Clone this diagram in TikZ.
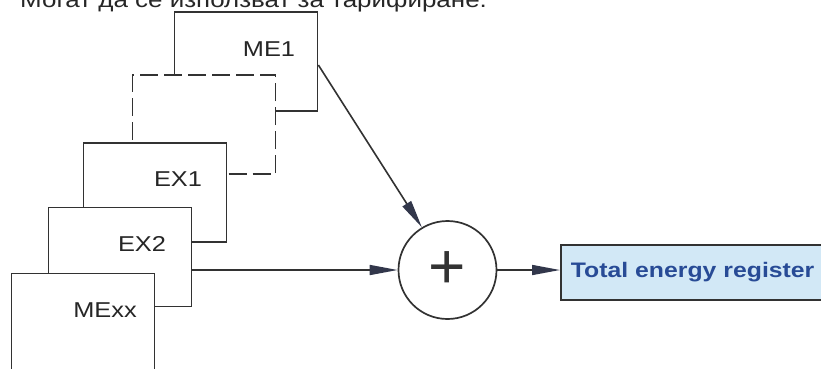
\documentclass[tikz,border=0pt]{standalone}
\usepackage{fontspec}
\setmainfont{Liberation Sans}
\newfontfamily\lblfont[FakeStretch=1.18]{Liberation Sans}
\usetikzlibrary{arrows.meta}
\definecolor{linegray}{RGB}{50,50,50}
\definecolor{headgray}{RGB}{50,55,75}
\definecolor{regfill}{RGB}{210,232,246}
\definecolor{regtext}{RGB}{40,75,150}
\begin{document}
\begin{tikzpicture}[x=1pt,y=-1pt,
  card/.style={draw=linegray, line width=1.7pt, fill=white, minimum width=143pt, minimum height=99pt, inner sep=0pt},
  hidcard/.style={card, dash pattern=on 18pt off 6pt},
  lbl/.style={font=\lblfont\fontsize{21.5}{25}\selectfont, text=black!85, inner sep=0pt},
  arr/.style={draw=linegray, line width=1.6pt, -{Triangle[length=28pt,width=10pt,color=headgray]}},
]
\useasboundingbox (0,0) rectangle (821,368);
\clip (0,0) rectangle (821,368);
\fill[white] (0,0) rectangle (821,368);
\node[font=\lblfont\fontsize{22}{26}\selectfont, text=black!85, anchor=base west, inner sep=0pt] (toptext) at (20,7) {Могат да се използват за тарифиране.};
\node[card] (me1) at (246,61.5) {};
\node[hidcard] (dx) at (204,124.5) {};
\node[card] (ex1) at (155,192.5) {};
\node[card] (ex2) at (120,257) {};
\node[card] (mexx) at (83,323) {};
\node[lbl] (me1t) at ([shift={(23,-12)}]me1.center) {ME1};
\node[lbl] (ex1t) at ([shift={(23,-13)}]ex1.center) {EX1};
\node[lbl] (ex2t) at ([shift={(22,-13)}]ex2.center) {EX2};
\node[lbl] (mexxt) at ([shift={(22,-12.5)}]mexx.center) {MExx};
\node[draw=linegray, line width=1.7pt, circle, minimum size=98pt, inner sep=0pt, text=black!80, font=\fontsize{64}{64}\selectfont] (sum) at (447.5,270) {+};
\node[draw=linegray, line width=1.7pt, fill=regfill, anchor=west, minimum height=55pt, text width=250pt, inner xsep=10pt, align=left, font=\lblfont\bfseries\fontsize{21}{25}\selectfont, text=regtext] (reg) at (560,272.5) {Total energy register};
\draw[arr] ([yshift=-3.5pt]me1.east) -- (sum.121);
\draw[arr] (sum.west -| ex2.east) -- (sum.west);
\draw[arr] (sum.east) -- (sum.east -| reg.west);
\end{tikzpicture}
\end{document}
